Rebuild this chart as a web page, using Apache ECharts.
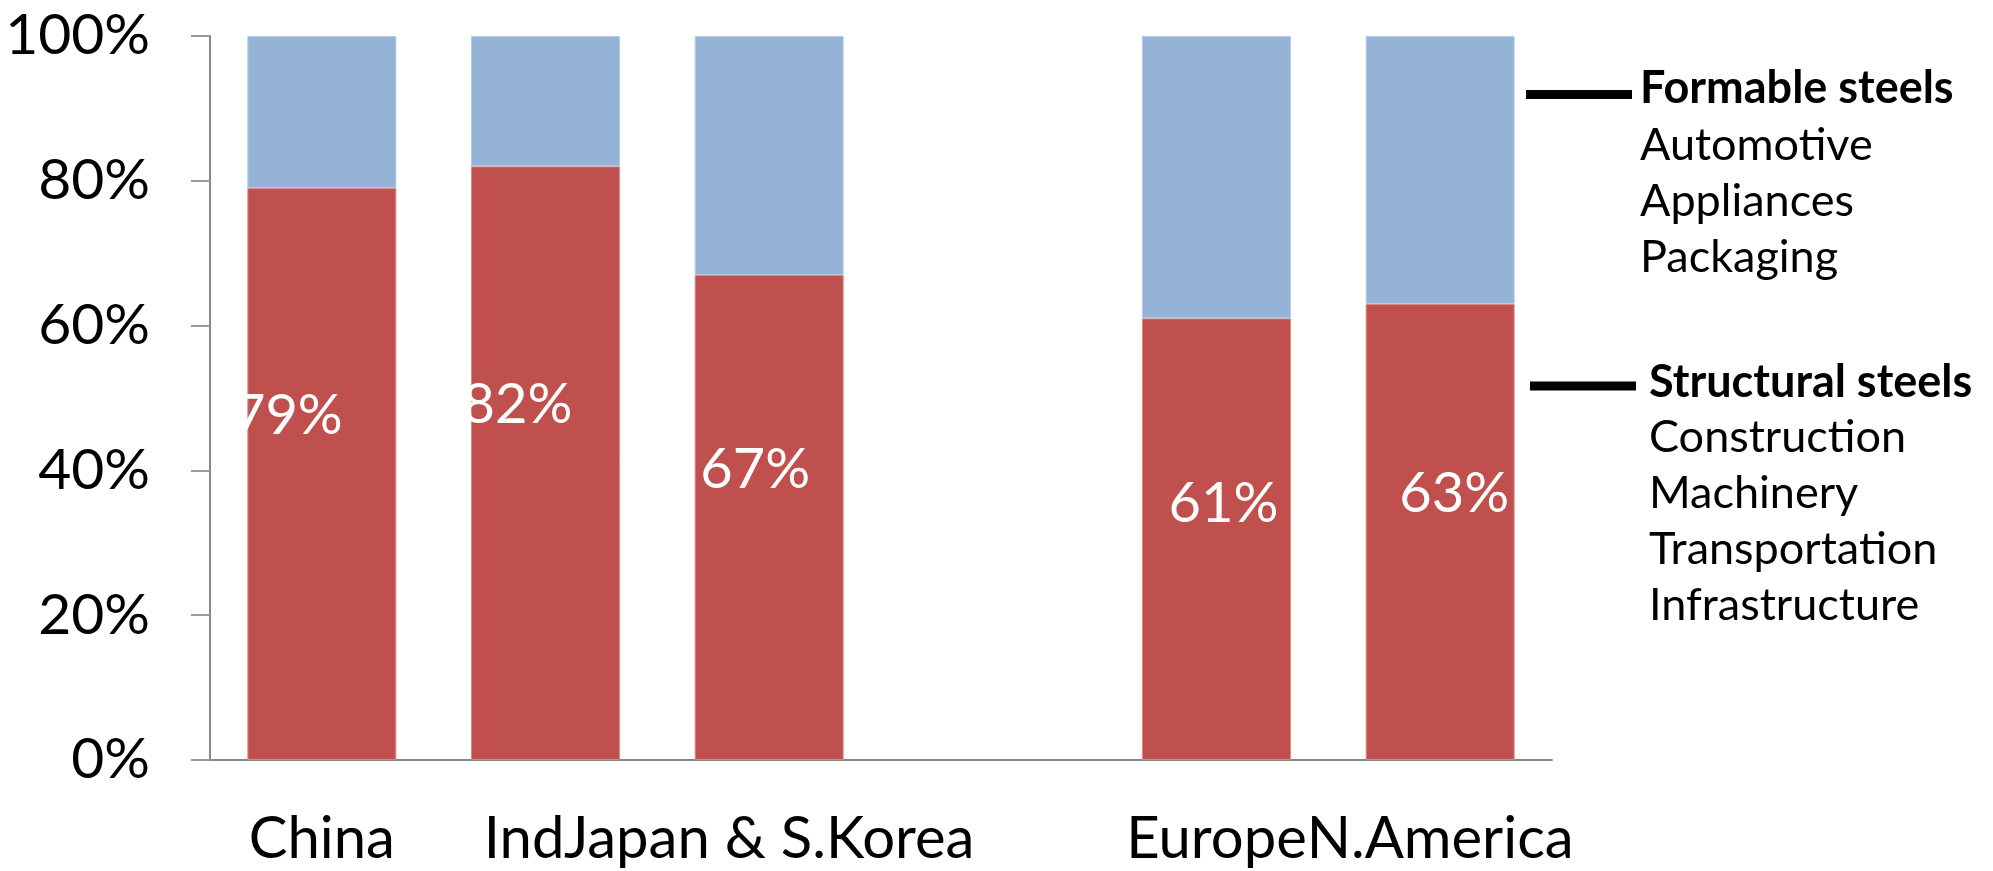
<!DOCTYPE html>
<html>
<head>
<meta charset="utf-8">
<script src="https://cdn.jsdelivr.net/npm/echarts@6/dist/echarts.min.js"></script>
<style>
  html, body { margin: 0; padding: 0; background: #fff; }
  #chart { width: 1993px; height: 871px; }
</style>
</head>
<body>
<div id="chart"></div>
<script>
// Regions (the fourth slot is an intentional spacer between Asia and the West)
const regions = ['China', 'India', 'Japan & S.Korea', '', 'Europe', 'N.America'];
// Share of structural steels (%) per region
const structuralShare = [79, 82, 67, null, 61, 63];
// Share of formable steels (%) per region
const formableShare = [21, 18, 33, null, 39, 37];
// Y-axis ticks
const yTicks = [0, 20, 40, 60, 80, 100];

// Hand-placed label nudges for the in-bar percentages [dx, dy]
const labelNudge = [[-34, -58], [-28, -58], [-14, -48], [0, 0], [7, -35], [14, -38]];

const FONT = 'Lato, "Noto Sans", sans-serif';
const RED = '#C0504D';
const BLUE = '#95B3D7';
const AXIS = '#868686';

const chart = echarts.init(document.getElementById('chart'), null, { renderer: 'canvas' });

const structuralData = structuralShare.map((v, i) => ({
  value: v,
  label: { offset: labelNudge[i] }
}));

const option = {
  backgroundColor: '#ffffff',
  animation: false,
  grid: { left: 210, right: 441, top: 36, bottom: 111, containLabel: false, outerBoundsMode: 'none' },
  xAxis: {
    type: 'category',
    data: regions,
    axisLine: { lineStyle: { color: AXIS, width: 2 } },
    axisTick: { show: false },
    axisLabel: {
      interval: 0,
      color: '#000',
      fontFamily: FONT,
      fontSize: 58,
      margin: 50,
      backgroundColor: '#fff'
    },
    splitLine: { show: false }
  },
  yAxis: {
    type: 'value',
    min: yTicks[0],
    max: yTicks[yTicks.length - 1],
    interval: 20,
    axisLine: { show: true, lineStyle: { color: AXIS, width: 2 } },
    axisTick: { show: true, inside: false, length: 19, lineStyle: { color: '#9a9a9a', width: 2 } },
    axisLabel: {
      color: '#000',
      fontFamily: FONT,
      fontSize: 57,
      margin: 60,
      formatter: '{value}%'
    },
    splitLine: { show: false }
  },
  series: [
    {
      name: 'Structural steels',
      type: 'bar',
      stack: 'share',
      data: structuralData,
      barCategoryGap: '33.4%',
      itemStyle: { color: RED, borderColor: '#d98a88', borderWidth: 1 },
      label: {
        show: true,
        position: 'inside',
        color: '#fff',
        fontFamily: FONT,
        fontSize: 56,
        formatter: p => p.value == null ? '' : p.value + '%'
      }
    },
    {
      name: 'Formable steels',
      type: 'bar',
      stack: 'share',
      data: formableShare,
      barCategoryGap: '33.4%',
      itemStyle: { color: BLUE, borderColor: '#b4c9e4', borderWidth: 1 }
    }
  ],
  graphic: [
    { type: 'line', shape: { x1: 1526, y1: 94.5, x2: 1632, y2: 94.5 }, style: { stroke: '#000', lineWidth: 9 } },
    { type: 'text', left: 1640, top: 66, style: { text: 'Formable steels', font: 'bold 45px ' + FONT, fill: '#000' } },
    { type: 'text', left: 1640, top: 117, style: { text: 'Automotive\nAppliances\nPackaging', font: '45px ' + FONT, fill: '#000', lineHeight: 56 } },
    { type: 'line', shape: { x1: 1530, y1: 386, x2: 1636, y2: 386 }, style: { stroke: '#000', lineWidth: 9 } },
    { type: 'text', left: 1649, top: 360, style: { text: 'Structural steels', font: 'bold 45px ' + FONT, fill: '#000' } },
    { type: 'text', left: 1649, top: 409, style: { text: 'Construction\nMachinery\nTransportation\nInfrastructure', font: '45px ' + FONT, fill: '#000', lineHeight: 56 } }
  ]
};

chart.setOption(option);
</script>
</body>
</html>
